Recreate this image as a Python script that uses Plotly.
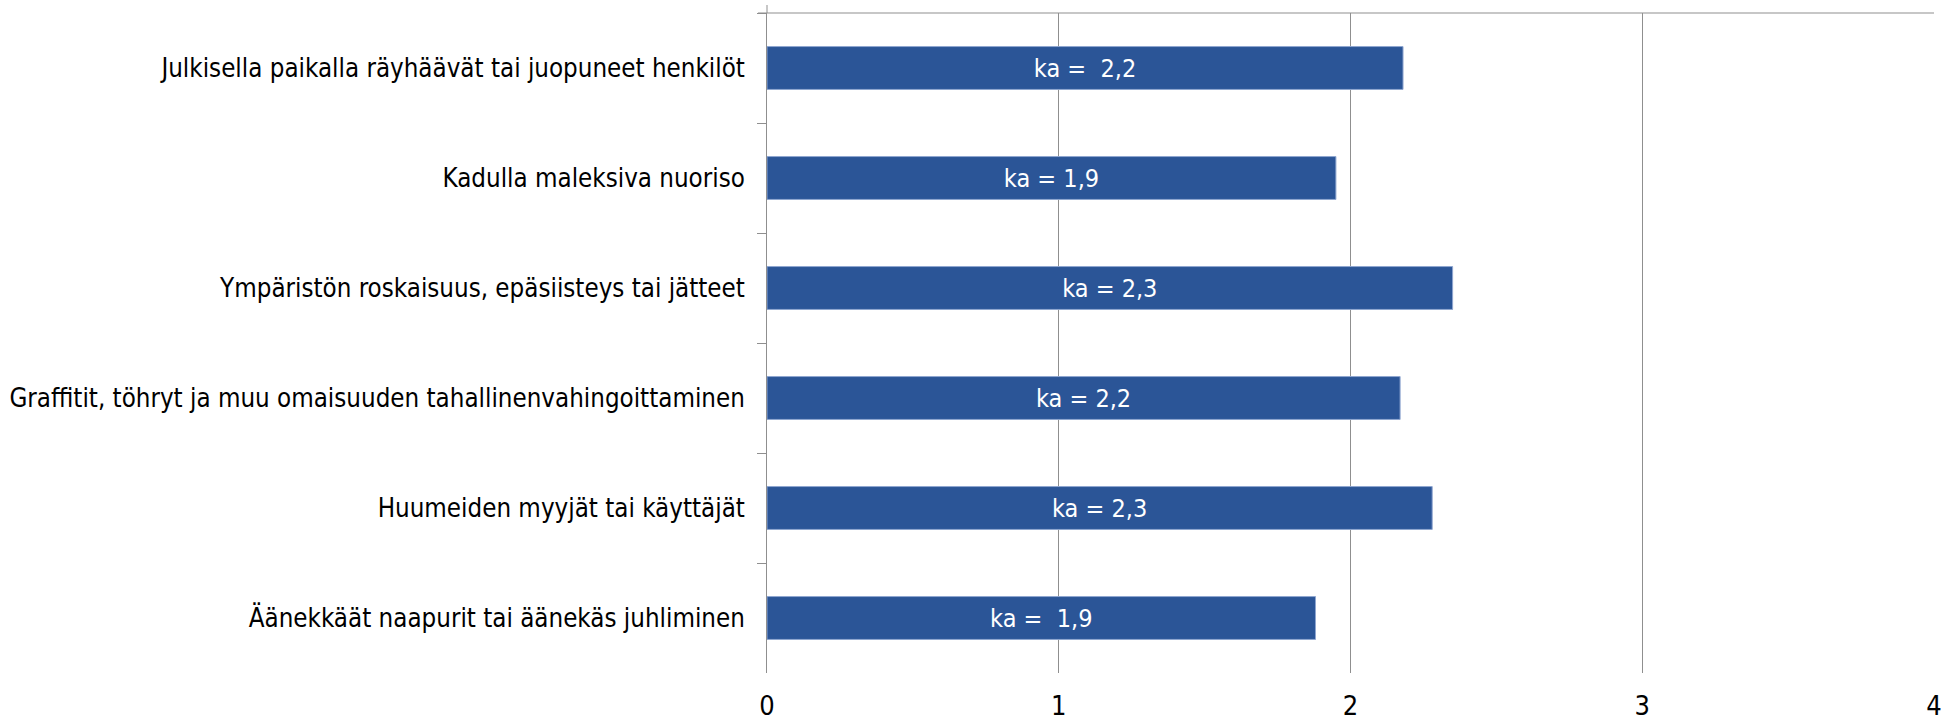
import plotly.graph_objects as go

categories = [
    "Julkisella paikalla räyhäävät tai juopuneet henkilöt",
    "Kadulla maleksiva nuoriso",
    "Ympäristön roskaisuus, epäsiisteys tai jätteet",
    "Graffitit, töhryt ja muu omaisuuden tahallinenvahingoittaminen",
    "Huumeiden myyjät tai käyttäjät",
    "Äänekkäät naapurit tai äänekäs juhliminen",
]
values = [2.18, 1.95, 2.35, 2.17, 2.28, 1.88]
bar_labels = ["ka =\u00a0 2,2", "ka = 1,9", "ka = 2,3", "ka = 2,2", "ka = 2,3", "ka =\u00a0 1,9"]
x_ticks = [0, 1, 2, 3, 4]

FONT = "DejaVu Sans Condensed, Liberation Sans Narrow, sans-serif"
GRID = "#8f8f8f"

fig = go.Figure(go.Bar(
    x=values,
    y=categories,
    orientation="h",
    width=0.39,
    marker=dict(color="#2B5597", line=dict(color="#8FA6D0", width=1)),
    text=bar_labels,
    textposition="inside",
    insidetextanchor="middle",
    textangle=0,
    constraintext="none",
    textfont=dict(color="white", size=25, family=FONT),
    hoverinfo="skip",
))

fig.update_layout(
    width=1950,
    height=723,
    margin=dict(l=767, r=16, t=13, b=50),
    paper_bgcolor="white",
    plot_bgcolor="white",
    showlegend=False,
    font=dict(family=FONT, size=26, color="#000000"),
    xaxis=dict(
        range=[0, 4],
        tickvals=x_ticks,
        ticktext=[str(v) for v in x_ticks],
        showgrid=True,
        gridcolor=GRID,
        gridwidth=1,
        zeroline=False,
        showline=False,
        ticks="",
        automargin=False,
        ticklabelstandoff=14,
        tickfont=dict(size=27, family=FONT, color="#000000"),
    ),
    yaxis=dict(
        autorange="reversed",
        showline=True,
        linecolor=GRID,
        linewidth=1,
        ticks="outside",
        tickson="boundaries",
        ticklen=9,
        tickcolor=GRID,
        showgrid=False,
        automargin=False,
        ticklabelstandoff=16,
        tickfont=dict(size=25.7, family=FONT, color="#000000"),
    ),
    shapes=[
        dict(type="line", xref="paper", yref="paper", x0=-9/1167, x1=1, y0=1, y1=1,
             line=dict(color=GRID, width=1)),
        dict(type="line", xref="paper", yref="paper", x0=0, x1=0, y0=1, y1=1 + 8/660,
             line=dict(color=GRID, width=1)),
    ],
)

fig.write_html(
    "out.html",
    config={"displayModeBar": False},
    post_script="document.body.style.margin='0';document.body.style.overflow='hidden';",
)
